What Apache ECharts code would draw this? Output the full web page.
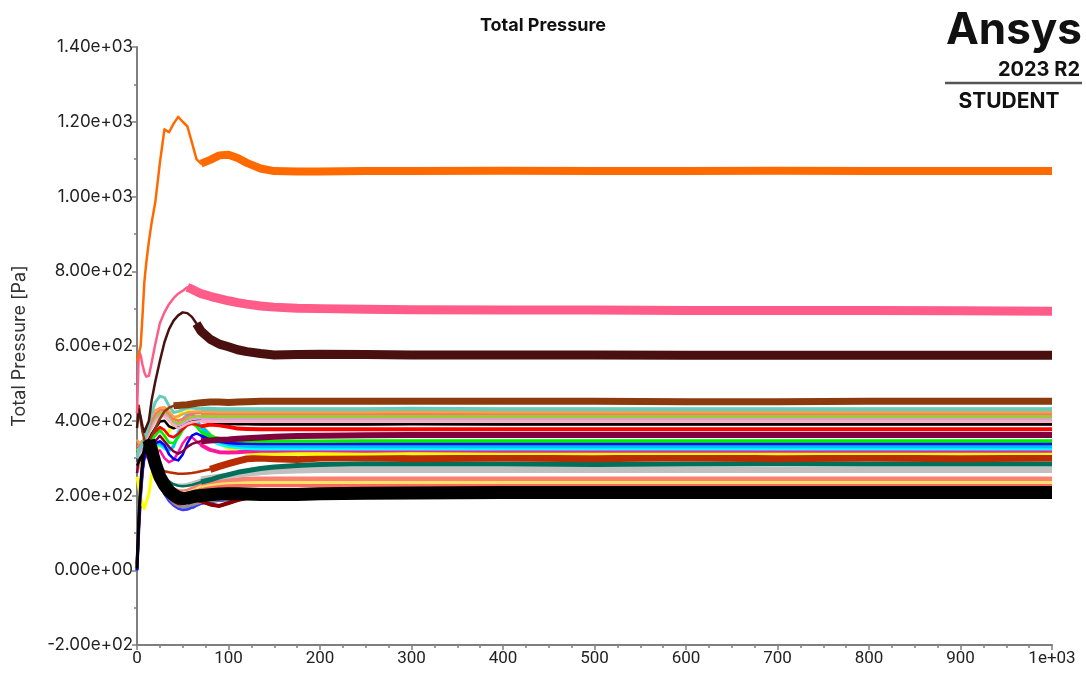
<!DOCTYPE html>
<html>
<head>
<meta charset="utf-8">
<script src="https://cdn.jsdelivr.net/npm/echarts@6/dist/echarts.min.js"></script>
<style>html,body{margin:0;padding:0;background:#fff}#c{width:1086px;height:673px}</style>
</head>
<body>
<div id="c"></div>
<script>
// ---- data ----
const iterations = [0,2,4,6,8,10,13,16,20,25,30,35,40,45,50,55,60,65,70,80,90,100,110,120,135,150,175,200,250,300,400,500,600,700,800,900,1000];
const yTicks = [-200,0,200,400,600,800,1000,1200,1400];
const xTicks = [0,100,200,300,400,500,600,700,800,900,1000];

const orange      = [560,580,600,680,770,820,880,930,985,1090, 1180,1172,1195,1213,1200,1188,1145,1100,1088,1098, 1110,1112,1103,1090,1075,1068,1067,1067,1068,1068, 1069,1068,1068,1069,1068,1068,1068];
const pink        = [420,585,575,550,530,518,520,555,605,661, 690,712,728,740,748,757,752,746,740,733, 727,721,716,712,707,704,701,700,698,697, 696,696,695,695,695,694,693];
const darkBrown   = [380,430,410,385,370,365,400,455,505,560, 610,645,668,682,690,688,678,660,640,618, 605,598,590,585,580,576,577,578,577,576, 576,576,575,575,575,575,575];
const brown       = [420,440,400,370,350,340,345,360,380,405, 425,435,440,441,442,443,445,447,448,450, 450,449,450,451,452,452,452,452,452,452, 452,452,451,451,452,452,452];
const teal        = [300,320,330,340,350,365,390,420,450,466, 462,440,422,425,430,434,434,433,432,432, 431,431,431,431,431,431,431,431,431,432, 431,431,431,431,431,431,431];
const orange2     = [350,340,335,345,355,370,395,415,428,434, 436,425,410,412,418,422,424,425,425,425, 424,424,424,424,424,424,424,424,424,425, 424,424,424,424,424,424,424];
const lightCoral  = [330,335,340,345,350,360,380,400,418,428, 430,420,405,400,405,412,418,420,421,421, 420,420,420,420,420,420,420,420,420,420, 420,420,420,420,420,420,420];
const yellowGreen = [320,325,330,340,350,360,375,395,410,420, 425,415,398,392,398,405,410,412,413,413, 412,412,412,412,412,412,412,412,412,412, 412,412,412,412,412,412,412];
const plum        = [310,315,320,330,345,355,370,390,405,415, 418,410,395,388,392,400,404,406,407,407, 406,406,406,406,406,406,406,406,406,406, 406,406,406,406,406,406,406];
const lightPink   = [300,305,315,325,340,350,365,382,398,410, 412,400,388,380,385,392,396,398,399,399, 399,399,399,399,399,399,399,399,399,399, 399,399,399,399,399,399,399];
const black2      = [280,290,300,310,320,335,350,365,380,398, 400,385,380,385,392,398,400,400,401,399, 396,393,392,392,391,391,391,391,391,392, 391,391,391,391,391,391,391];
const red         = [330,335,340,345,350,352,355,360,370,383, 375,360,356,365,378,388,392,390,385,390, 388,384,379,378,377,377,377,377,377,377, 377,377,377,377,377,377,377];
const maroon      = [260,300,340,330,320,325,330,335,345,360, 345,330,318,312,318,330,338,342,345,347, 349,350,352,353,355,357,359,360,361,362, 362,362,362,362,362,362,362];
const lime        = [320,325,330,335,340,345,348,352,360,375, 360,342,340,355,375,390,393,385,370,358, 352,348,347,346,345,345,345,345,346,346, 346,346,346,346,346,346,346];
const blue        = [0,120,210,270,300,320,330,335,340,345, 335,310,298,294,310,340,360,366,360,350, 345,342,340,340,339,339,339,339,339,339, 339,339,339,339,339,339,339];
const skyBlue     = [310,312,315,318,322,326,330,334,337,340, 330,322,330,360,395,415,418,405,385,360, 345,338,335,333,332,332,332,332,332,332, 332,332,332,332,332,332,332];
const cyan        = [305,308,310,313,316,320,325,330,333,335, 325,318,335,370,405,420,415,395,375,350, 338,332,329,327,326,326,326,326,326,326, 326,326,326,326,326,326,326];
const deepPink    = [290,292,295,298,300,303,306,309,312,321, 300,289,295,315,340,355,356,345,335,322, 316,315,316,318,320,320,321,321,320,321, 320,320,320,320,320,320,320];
const yellow      = [250,220,195,175,165,170,205,255,305,340, 358,372,392,412,428,432,418,398,385,362, 342,328,320,316,314,313,313,313,314,315, 315,315,315,315,315,315,315];
const rust        = [300,320,330,335,333,330,320,305,290,275, 265,262,260,258,258,259,260,262,265,270, 278,285,292,298,300,298,296,300,302,298, 300,298,301,298,300,298,300];
const darkTeal    = [290,310,325,332,334,332,320,300,280,262, 248,238,230,226,225,226,228,232,236,242, 250,256,262,266,272,276,280,283,285,284, 284,283,284,285,284,284,284];
const silver      = [280,300,315,325,330,330,318,298,275,255, 242,234,230,229,229,231,234,238,243,247, 250,253,256,258,262,265,267,268,268,268, 268,268,268,268,268,268,268];
const salmon      = [270,290,310,320,325,325,312,292,270,250, 235,225,218,214,213,215,220,226,232,237, 240,242,243,244,245,245,245,245,245,245, 245,245,245,245,245,245,245];
const lightYellow = [265,285,305,318,323,322,308,288,265,245, 230,220,212,208,206,208,213,220,226,231, 234,236,237,237,237,237,237,237,237,237, 237,237,237,237,237,237,237];
const coral       = [260,280,300,315,320,320,305,285,262,242, 226,215,208,204,202,204,208,214,219,223, 225,226,227,228,228,228,228,228,228,228, 228,228,228,228,228,228,228];
const hGreen      = [0,130,215,275,312,332,335,312,275,238, 212,192,178,170,166,167,172,178,182,186, 189,191,193,195,197,198,200,201,202,203, 203,203,203,203,203,203,203];
const hBlue       = [0,110,200,265,305,328,332,308,270,232, 205,186,174,166,162,163,168,175,180,185, 188,190,192,194,196,198,199,200,201,202, 202,202,202,202,202,202,202];
const hPurple     = [20,140,222,280,315,335,336,314,278,242, 215,196,182,173,168,170,176,181,185,189, 191,193,195,196,198,199,200,201,201,202, 202,202,202,202,202,202,202];
const hGray       = [10,135,218,278,314,334,336,313,276,240, 214,194,180,172,169,171,175,180,184,187, 190,192,194,196,198,199,200,201,201,202, 202,202,202,202,202,202,202];
const hDarkRed    = [15,125,212,272,310,330,333,310,273,237, 212,195,184,178,178,182,186,188,185,176, 172,180,188,193,196,198,200,201,202,203, 203,203,203,203,203,203,203];
const blackMain   = [5,140,230,290,325,345,348,320,285,250, 228,212,202,195,192,193,196,199,200,202, 204,205,205,204,203,203,203,205,206,207, 208,208,208,208,208,208,208];

// ---- styling (drawing order: first drawn at bottom) ----
const specs = [
  [hGreen,'#008a00',3,4,60],[hBlue,'#3a3aff',3,4,60],[hPurple,'#8f6ee8',3,4,60],[hGray,'#909090',3,4,60],[hDarkRed,'#8b0000',3,4,60],
  [coral,'#ff6a5a',2.5,4.5,70],[lightYellow,'#ffe26a',2.5,4.5,70],[salmon,'#fa8072',2.5,4.5,70],[silver,'#c0c0c0',2.5,6,70],
  [darkTeal,'#00705a',2.5,5,70],[rust,'#b82c00',2.5,7,80],
  [yellow,'#ffff00',3,5,70],[deepPink,'#ff14a0',2.5,4,70],[cyan,'#00ffff',2.5,4,70],[skyBlue,'#00bfff',2.5,4,70],
  [blue,'#0000ff',2.5,3.5,70],[lime,'#00ee00',2.5,3.5,70],[maroon,'#800040',2.5,6,70],[red,'#ff0000',2.5,4,70],
  [black2,'#000000',2.5,3.5,70],[lightPink,'#ffb0c0',2.5,4,70],[plum,'#dda0dd',2.5,4,70],[yellowGreen,'#9acd32',2.5,4,70],
  [lightCoral,'#ff7070',2.5,3.5,70],[orange2,'#ffa040',2.5,3.5,70],[teal,'#66ccbb',3,4,70],
  [brown,'#8b3a0e',2.5,7,40],[darkBrown,'#4a1010',2.5,9,65],[pink,'#ff5c8a',2.5,9,55],[orange,'#ff6a00',2.5,8,70],
  [blackMain,'#000000',3,13,13]
];

function pairs(vals){ return iterations.map((x,i)=>[x, vals[i]]); }

const series = [];
specs.forEach(([vals,color,thin,thick,from])=>{
  const d = pairs(vals);
  series.push({type:'line', data:d, showSymbol:false, silent:true, animation:false,
    lineStyle:{color, width:thin, join:'round'}});
  series.push({type:'line', data:d.filter(p=>p[0]>=from), showSymbol:false, silent:true, animation:false,
    lineStyle:{color, width:thick, join:'round', cap:'butt'}});
});

function yFmt(v){
  if (v === 0) return '0.00e+00';
  return v.toExponential(2).replace(/e([+-])(\d)$/, 'e$10$2');
}
function xFmt(v){ return v === 1000 ? '1e+03' : String(v); }

const axisColor = '#7f7f7f';
const chart = echarts.init(document.getElementById('c'), null, {renderer:'canvas'});
chart.setOption({
  animation:false,
  backgroundColor:'#ffffff',
  title:{text:'Total Pressure', left:'center', top:12,
    textStyle:{fontSize:18, fontWeight:'bold', color:'#111', fontFamily:'Inter'}},
  grid:{left:137, right:34, top:47, bottom:28},
  xAxis:{type:'value', min:xTicks[0], max:xTicks[xTicks.length-1], interval:100,
    axisLine:{onZero:false, lineStyle:{color:axisColor, width:2}},
    axisTick:{show:true, length:5, lineStyle:{color:axisColor, width:1.5}},
    minorTick:{show:true, splitNumber:4, length:3, lineStyle:{color:axisColor, width:1.5}},
    splitLine:{show:false},
    axisLabel:{formatter:xFmt, fontSize:17, color:'#222', margin:5, fontFamily:'Liberation Sans Narrow, Roboto'}},
  yAxis:{type:'value', min:yTicks[0], max:yTicks[yTicks.length-1], interval:200,
    axisLine:{show:true, onZero:false, lineStyle:{color:axisColor, width:2}},
    axisTick:{show:true, length:5, lineStyle:{color:axisColor, width:1.5}},
    minorTick:{show:true, splitNumber:2, length:3, lineStyle:{color:axisColor, width:1.5}},
    splitLine:{show:false},
    axisLabel:{formatter:yFmt, fontSize:17, color:'#222', margin:4, fontFamily:'Inter'},
    name:'Total Pressure [Pa]', nameLocation:'middle', nameGap:108, nameRotate:90,
    nameTextStyle:{fontSize:18, color:'#333', fontFamily:'Inter'}},
  graphic:[
    {type:'text', x:1082, y:9, style:{text:'Ansys', align:'right', verticalAlign:'top', font:'bold 44px Inter', fill:'#111'}},
    {type:'text', x:1080, y:70, style:{text:'2023 R2', align:'right', verticalAlign:'middle', font:'bold 20px Inter', fill:'#111'}},
    {type:'line', shape:{x1:945, y1:83, x2:1082, y2:83}, style:{stroke:'#555', lineWidth:2.5}},
    {type:'text', x:1009, y:102, style:{text:'STUDENT', align:'center', verticalAlign:'middle', font:'bold 21px Inter', fill:'#111'}}
  ],
  series
});
</script>
</body>
</html>
